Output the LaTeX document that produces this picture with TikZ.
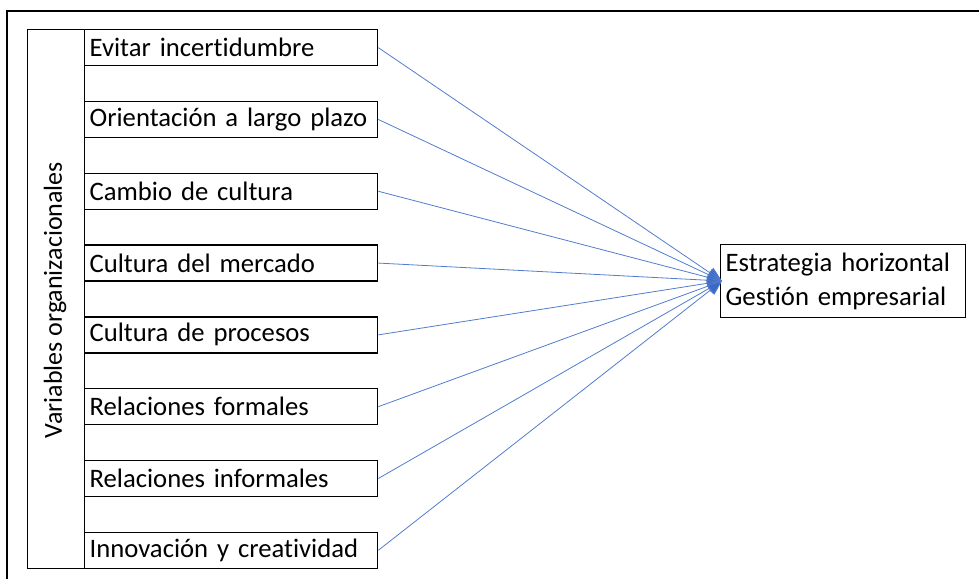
\documentclass[tikz,border=0pt]{standalone}
\usepackage{fontspec}
\setmainfont{Carlito}[Ligatures=CommonOff]
\usetikzlibrary{arrows.meta}
\definecolor{linkblue}{RGB}{82,124,206}
\definecolor{tipblue}{RGB}{60,105,200}
\tikzset{
  frame/.style={line width=1.3pt, black},
  varbox/.style={draw, line width=1pt, anchor=north west, minimum width=219.75pt,
    minimum height=27pt, text width=212.25pt, inner xsep=3.75pt, inner ysep=0pt, align=left,
    font=\fontsize{20pt}{24pt}\selectfont},
  link/.style={linkblue, line width=0.6pt, -{Triangle[length=11pt,width=9pt,fill=tipblue]}},
}
\begin{document}
\begin{tikzpicture}[x=0.75pt,y=-0.75pt]
\useasboundingbox (0,0) rectangle (979,579);
\draw[frame] (7,579) -- (7,11) -- (979,11);
\node[draw, line width=1pt, anchor=north west, minimum width=42.75pt, minimum height=404.25pt, inner sep=0pt] (grp) at (27,29) {};
\node[rotate=90, font=\fontsize{19.5pt}{22pt}\selectfont] (grplbl) at (55,300) {Variables organizacionales};
\node[varbox] (b1) at (84,29) {Evitar incertidumbre};
\node[varbox] (b2) at (84,100.8) {Orientación a largo plazo};
\node[varbox] (b3) at (84,172.6) {Cambio de cultura};
\node[varbox] (b4) at (84,244.4) {Cultura del mercado};
\node[varbox] (b5) at (84,316.2) {Cultura de procesos};
\node[varbox] (b6) at (84,388) {Relaciones formales};
\node[varbox] (b7) at (84,459.8) {Relaciones informales};
\node[varbox] (b8) at (84,531.6) {Innovación y creatividad};
\node[draw, line width=1pt, anchor=north west, minimum width=183.75pt, minimum height=54.75pt,
  text width=176.25pt, inner xsep=3.75pt, align=left, font=\fontsize{20pt}{25.5pt}\selectfont] (tgt) at (720,244) {Estrategia horizontal\\Gestión empresarial};
\coordinate (tip) at (722,281);
\foreach \i in {1,...,8} { \draw[link] (b\i.east) -- (tip); }
\end{tikzpicture}
\end{document}
